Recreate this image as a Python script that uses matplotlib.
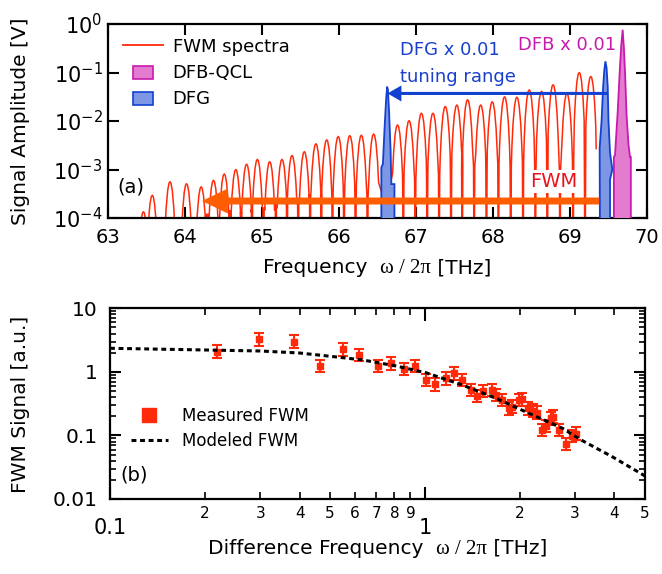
import matplotlib
matplotlib.use("Agg")
import matplotlib.pyplot as plt
import numpy as np
from matplotlib.lines import Line2D
import matplotlib.patches as mpatches
from matplotlib.legend_handler import HandlerPatch
from matplotlib.offsetbox import TextArea, HPacker, AnchoredOffsetbox
from matplotlib.ticker import FixedLocator, FixedFormatter, NullFormatter, NullLocator, LogLocator

plt.rcParams['font.family'] = ['DejaVu Sans']

# ---------------- data: panel (a) ----------------
# FWM comb peaks: centre frequency (THz) and peak amplitude (V)
fwm_freq = [63.46, 63.575, 63.805, 64.02, 64.21, 64.37, 64.51, 64.66, 64.80, 64.94,
            65.10, 65.26, 65.39, 65.55, 65.70, 65.84, 65.99, 66.14, 66.29, 66.45,
            66.76, 66.91, 67.07, 67.22, 67.38, 67.53, 67.67, 67.84, 67.99, 68.15,
            68.31, 68.47, 68.63, 68.78, 68.96, 69.12, 69.27]
fwm_amp = [1.35e-4, 2.95e-4, 5.6e-4, 5.1e-4, 4.4e-4, 6.0e-4, 8.1e-4, 1.0e-3, 1.29e-3, 1.62e-3,
           1.45e-3, 1.62e-3, 1.95e-3, 2.34e-3, 3.4e-3, 4.1e-3, 4.8e-3, 5.0e-3, 5.1e-3, 5.4e-3,
           8.3e-3, 1.02e-2, 1.45e-2, 1.45e-2, 2.0e-2, 2.14e-2, 2.75e-2, 2.14e-2, 2.5e-2, 3.16e-2,
           3.1e-2, 4.4e-2, 4.1e-2, 5.6e-2, 3.7e-2, 1.0e-1, 8.3e-2]
# level of the signal floor after each peak (V)
fwm_trough = [5e-5, 5e-5, 5e-5, 5e-5, 1.2e-4, 5e-5, 1.4e-4, 1.3e-4, 1.5e-4, 1.6e-4,
              2.5e-4, 2.0e-4, 2.5e-4, 3.0e-4, 2.8e-4, 3.0e-4, 3.0e-4, 2.5e-4, 3.0e-4, 2.0e-4,
              5e-4, 6e-4, 7e-4, 8e-4, 8e-4, 1.0e-3, 1.2e-3, 1.0e-3, 1.3e-3, 1.2e-3,
              1.5e-3, 1.0e-3, 1.3e-3, 1.0e-3, 1.5e-3, 1.2e-3, 2.7e-3]
floor_level = 1e-5

# DFG spectra (x0.01), outlines
dfg1_freq = [66.55, 66.55, 66.57, 66.59, 66.61, 66.625, 66.635, 66.65, 66.67, 66.68, 66.72, 66.72]
dfg1_amp = [1e-5, 1.1e-3, 1.3e-3, 6.3e-3, 2.5e-2, 5.1e-2, 4.5e-2, 1.6e-2, 2.5e-3, 5.0e-4, 5.0e-4, 1e-5]
dfg2_freq = [69.39, 69.385, 69.41, 69.43, 69.445, 69.46, 69.475, 69.49, 69.50, 69.52, 69.55, 69.52, 69.52]
dfg2_amp = [1e-5, 2.8e-3, 1.0e-2, 5.0e-2, 1.1e-1, 1.7e-1, 1.25e-1, 5.0e-2, 1.0e-2, 2.2e-3, 1.0e-3, 6.3e-4, 1e-5]
# DFB-QCL spectrum (x0.01)
dfb_freq = [69.57, 69.57, 69.585, 69.60, 69.62, 69.645, 69.665, 69.684, 69.70, 69.715, 69.735, 69.76, 69.78, 69.79, 69.79]
dfb_amp = [1e-5, 1.8e-3, 2.0e-3, 5.0e-3, 1.6e-2, 1.0e-1, 3.5e-1, 7.6e-1, 3.2e-1, 1.0e-1, 1.3e-2, 3.2e-3, 1.8e-3, 1.8e-3, 1e-5]

tuning_start, tuning_end, tuning_level = 69.48, 66.63, 3.7e-2
fwm_arrow_start, fwm_arrow_end, fwm_arrow_level = 69.38, 64.22, 2.24e-4

# ---------------- data: panel (b) ----------------
meas_x = [0.218, 0.297, 0.383, 0.465, 0.548, 0.616, 0.708, 0.780, 0.860, 0.931,
          1.007, 1.078, 1.166, 1.238, 1.309, 1.399, 1.468, 1.530, 1.630, 1.679,
          1.753, 1.849, 1.887, 1.990, 2.038, 2.129, 2.203, 2.274, 2.358, 2.428,
          2.507, 2.549, 2.661, 2.810, 2.936, 3.008]
meas_y = [2.08, 3.26, 2.98, 1.24, 2.27, 1.84, 1.24, 1.37, 1.11, 1.24,
          0.746, 0.638, 0.794, 0.95, 0.746, 0.519, 0.418, 0.501, 0.519, 0.434,
          0.361, 0.268, 0.284, 0.361, 0.371, 0.268, 0.245, 0.228, 0.122, 0.141,
          0.186, 0.198, 0.122, 0.0735, 0.098, 0.106]
meas_err_dex = 0.1
model_x = [0.1, 0.2, 0.3, 0.4, 0.516, 0.634, 0.809, 1.007, 1.315, 1.679, 2.14, 2.73, 3.16, 3.93, 4.83, 5.0]
model_y = [2.35, 2.21, 2.13, 1.98, 1.73, 1.54, 1.24, 0.97, 0.622, 0.385, 0.223, 0.130, 0.083, 0.0464, 0.0255, 0.023]

# ---------------- colours ----------------
RED = '#FF2A0A'
ORANGE = '#FF5E00'
BLUE_FILL = '#7E97E4'
BLUE_EDGE = '#1240D0'
MAG_FILL = '#E37BCE'
MAG_EDGE = '#C81AAE'
BLUE_TXT = '#1A3FCC'
FWM_TXT = '#E8141C'

fig = plt.figure(figsize=(6.62, 5.74), dpi=100)
ax1 = fig.add_axes([108 / 662, 1 - 218 / 574, 539 / 662, 194 / 574])
ax2 = fig.add_axes([110 / 662, 1 - 499 / 574, 535 / 662, 190.7 / 574])

for ax in (ax1, ax2):
    for s in ax.spines.values():
        s.set_linewidth(1.6)

# ---------------- panel (a) ----------------
# line shape around each peak: offsets (THz) and drop (decades)
shape_df = [-0.064, -0.05, -0.03, -0.013, 0.0, 0.013, 0.03, 0.05, 0.064]
shape_dd = [-1.0, -0.55, -0.18, -0.03, 0.0, -0.03, -0.18, -0.55, -1.0]

xs, ys = [fwm_freq[0] - 0.07], [floor_level]
n = len(fwm_freq)
for i in range(n):
    f, a = fwm_freq[i], fwm_amp[i]
    xs += [f + d for d in shape_df]
    ys += [a * 10 ** dd for dd in shape_dd]
    t = fwm_trough[i]
    if i < n - 1:
        mid = 0.5 * (f + fwm_freq[i + 1])
        xs += [mid - 0.008, mid - 0.002, mid + 0.002, mid + 0.008]
        ys += [t, floor_level, floor_level, t]
    else:
        xs += [f + 0.07]
        ys += [t]
ax1.plot(xs, ys, color=RED, lw=1.1, zorder=2)

ax1.fill(dfg1_freq, dfg1_amp, facecolor=BLUE_FILL, edgecolor=BLUE_EDGE, lw=1.3, zorder=3)
ax1.fill(dfg2_freq, dfg2_amp, facecolor=BLUE_FILL, edgecolor=BLUE_EDGE, lw=1.3, zorder=3)
ax1.fill(dfb_freq, dfb_amp, facecolor=MAG_FILL, edgecolor=MAG_EDGE, lw=1.3, zorder=3)

ax1.set_yscale('log')
ax1.set_xlim(63, 70)
ax1.set_ylim(1e-4, 1)
ax1.set_xticks(range(63, 71))
ax1.set_xticklabels([str(v) for v in range(63, 71)])
ax1.yaxis.set_major_locator(FixedLocator([1e-4, 1e-3, 1e-2, 1e-1, 1]))
ax1.yaxis.set_minor_locator(NullLocator())
ax1.xaxis.set_minor_locator(NullLocator())
ax1.tick_params(axis='x', which='major', direction='in', length=8, width=1.5,
                top=True, bottom=True, labelsize=14, pad=7)
ax1.tick_params(axis='y', which='major', direction='in', length=8, width=1.5,
                left=True, right=True, labelsize=15, pad=4)

ax1.annotate('', xy=(tuning_end, tuning_level), xytext=(tuning_start, tuning_level),
             arrowprops=dict(arrowstyle='simple,head_length=1.0,head_width=1.15,tail_width=0.22',
                             fc=BLUE_EDGE, ec='none', lw=0, mutation_scale=10,
                             shrinkA=0, shrinkB=0), zorder=5)
ax1.annotate('', xy=(fwm_arrow_end, fwm_arrow_level), xytext=(fwm_arrow_start, fwm_arrow_level),
             arrowprops=dict(arrowstyle='simple,head_length=1.87,head_width=1.8,tail_width=0.5',
                             fc=ORANGE, ec='none', lw=0, mutation_scale=10,
                             shrinkA=0, shrinkB=0), zorder=5)

ax1.text(66.79, 10 ** -0.54, 'DFG x 0.01', color=BLUE_TXT, fontsize=13, ha='left', va='center')
ax1.text(66.79, 10 ** -1.09, 'tuning range', color=BLUE_TXT, fontsize=13, ha='left', va='center')
ax1.text(68.33, 10 ** -0.44, 'DFB x 0.01', color=MAG_EDGE, fontsize=13, ha='left', va='center')
ax1.text(68.79, 10 ** -3.24, 'FWM', color=FWM_TXT, fontsize=14, ha='center', va='center',
         bbox=dict(facecolor='white', edgecolor='none', pad=1.5), zorder=4)
ax1.text(63.12, 10 ** -3.36, '(a)', fontsize=14, ha='left', va='center')


def small_rect(legend, orig_handle, xdescent, ydescent, width, height, fontsize):
    w = width * 0.5
    return mpatches.Rectangle((-xdescent + (width - w) / 2, -ydescent - 0.1 * height), w, height * 1.0)


h1 = [Line2D([], [], color=RED, lw=1.3),
      mpatches.Patch(facecolor=MAG_FILL, edgecolor=MAG_EDGE, lw=1.2),
      mpatches.Patch(facecolor=BLUE_FILL, edgecolor=BLUE_EDGE, lw=1.2)]
leg1 = ax1.legend(h1, ['FWM spectra', 'DFB-QCL', 'DFG'], loc='upper left',
                  bbox_to_anchor=(0.028, 0.93), frameon=False, fontsize=13,
                  handlelength=2.2, handletextpad=0.55, labelspacing=0.45,
                  borderpad=0, borderaxespad=0,
                  handler_map={mpatches.Patch: HandlerPatch(patch_func=small_rect)})

fig.text(21 / 662, 1 - 121 / 574, 'Signal Amplitude [V]', rotation=90, ha='center', va='center', fontsize=14.5)


def place_label(ax, first, y):
    parts = [TextArea(first, textprops=dict(fontsize=14.5, family='DejaVu Sans')),
             TextArea('ω / 2π', textprops=dict(fontsize=15, family='Liberation Serif')),
             TextArea(' [THz]', textprops=dict(fontsize=14.5, family='DejaVu Sans'))]
    box = HPacker(children=parts, align='baseline', pad=0, sep=0)
    anc = AnchoredOffsetbox(loc='center', child=box, pad=0, borderpad=0, frameon=False,
                            bbox_to_anchor=(0.5, y), bbox_transform=ax.transAxes)
    ax.add_artist(anc)


place_label(ax1, 'Frequency  ', -0.258)

# ---------------- panel (b) ----------------
meas_x_a = np.array(meas_x)
meas_y_a = np.array(meas_y)
yerr = [meas_y_a - meas_y_a / 10 ** meas_err_dex, meas_y_a * 10 ** meas_err_dex - meas_y_a]
ax2.errorbar(meas_x_a, meas_y_a, yerr=yerr, fmt='s', ms=5, color=RED, mec=RED,
             ecolor=RED, elinewidth=1.5, capsize=3.5, capthick=1.5, zorder=3)
ax2.plot(model_x, model_y, color='black', lw=2.2, ls=(0, (1.6, 1.2)), zorder=4)

ax2.set_xscale('log')
ax2.set_yscale('log')
ax2.set_xlim(0.1, 5)
ax2.set_ylim(0.01, 10)

major_x = [0.1, 1]
minor_x = [0.2, 0.3, 0.4, 0.5, 0.6, 0.7, 0.8, 0.9, 2, 3, 4, 5]
ax2.xaxis.set_major_locator(FixedLocator(major_x))
ax2.xaxis.set_major_formatter(FixedFormatter(['0.1', '1']))
ax2.xaxis.set_minor_locator(FixedLocator(minor_x))
ax2.xaxis.set_minor_formatter(FixedFormatter(['2', '3', '4', '5', '6', '7', '8', '9', '2', '3', '4', '5']))
ax2.yaxis.set_major_locator(FixedLocator([0.01, 0.1, 1, 10]))
ax2.yaxis.set_major_formatter(FixedFormatter(['0.01', '0.1', '1', '10']))
ax2.yaxis.set_minor_locator(LogLocator(base=10, subs=np.arange(2, 10)))
ax2.yaxis.set_minor_formatter(NullFormatter())

ax2.tick_params(axis='x', which='major', direction='in', length=9, width=1.5,
                top=True, bottom=True, labelsize=15, pad=14)
ax2.tick_params(axis='x', which='minor', direction='in', length=5, width=1.2,
                top=True, bottom=True, labelsize=11, pad=5)
ax2.tick_params(axis='y', which='major', direction='in', length=8, width=1.5,
                left=True, right=True, labelsize=14.5, pad=9)
ax2.tick_params(axis='y', which='minor', direction='in', length=4.5, width=1.2,
                left=True, right=True)

h2 = [Line2D([], [], marker='s', ls='none', color=RED, ms=10),
      Line2D([], [], color='black', lw=2.2, ls=(0, (1.6, 1.2)))]
ax2.legend(h2, ['Measured FWM', 'Modeled FWM'], loc='upper left',
           bbox_to_anchor=(0.039, 0.485), frameon=False, fontsize=12,
           handlelength=2.2, handletextpad=0.85, labelspacing=0.45,
           borderpad=0, borderaxespad=0)
ax2.text(0.1075, 0.0239, '(b)', fontsize=14, ha='left', va='center')

fig.text(21 / 662, 1 - 404 / 574, 'FWM Signal [a.u.]', rotation=90, ha='center', va='center', fontsize=14.5)
place_label(ax2, 'Difference Frequency  ', -0.262)

fig.savefig('out.png', dpi=100)
